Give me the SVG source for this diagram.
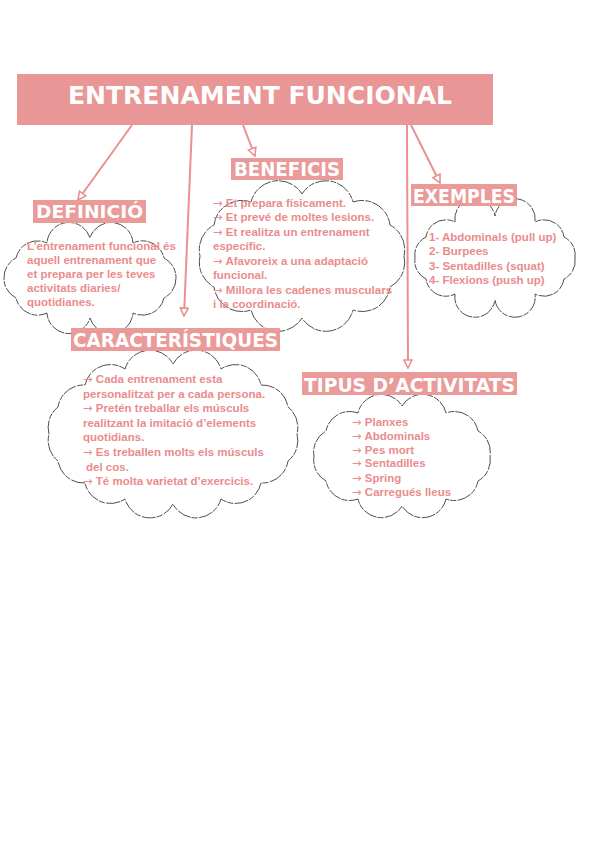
<svg xmlns="http://www.w3.org/2000/svg" width="600" height="848" viewBox="0 0 600 848">
<style>
.bg{fill:#ffffff}
.title{fill:#e89796}
.lbl{fill:#e99a99}
.ttxt{font-family:"DejaVu Sans",Verdana,sans-serif;font-weight:bold;fill:#ffffff}
.cloud{fill:#ffffff;stroke:#3a3a3a;stroke-width:0.9;stroke-dasharray:14 1.5 6 1}
.body{font-family:"Liberation Sans",Arial,sans-serif;font-weight:bold;font-size:11.5px;fill:#ea8c8c}
.ar{font-family:"DejaVu Sans",sans-serif;font-weight:normal}
.conn{stroke:#ea9090;stroke-width:2;fill:none;marker-end:url(#arr)}
</style>
<defs>
<marker id="arr" viewBox="0 0 10 10" refX="9" refY="5" markerWidth="10" markerHeight="10" markerUnits="userSpaceOnUse" orient="auto">
<path d="M1,1 L9,5 L1,9 Z" fill="#ffffff" stroke="#ea9090" stroke-width="1.6"/>
</marker>
</defs>
<rect class="bg" x="0" y="0" width="600" height="848"/>

<g id="title">
<rect class="title" x="17" y="74" width="476" height="51"/>
<text class="ttxt" x="68" y="104" font-size="25" textLength="384" lengthAdjust="spacingAndGlyphs">ENTRENAMENT FUNCIONAL</text>
</g>

<g id="connectors">
<line class="conn" x1="132" y1="125" x2="78" y2="200"/>
<line class="conn" x1="192" y1="125" x2="184" y2="316"/>
<line class="conn" x1="243" y1="125" x2="255" y2="156"/>
<line class="conn" x1="407" y1="125" x2="408" y2="368"/>
<line class="conn" x1="411" y1="125" x2="440" y2="183"/>
</g>

<g id="definicio">
<path class="cloud" d="M176,278 A22,22 0 0 1 164,298 A22,22 0 0 1 133,313 A22,22 0 0 1 90,318 A22,22 0 0 1 47,313 A22,22 0 0 1 16,298 A22,22 0 0 1 4,278 A22,22 0 0 1 16,258 A22,22 0 0 1 47,243 A22,22 0 0 1 90,238 A22,22 0 0 1 133,243 A22,22 0 0 1 164,258 A22,22 0 0 1 176,278 Z"/>
<rect class="lbl" x="33" y="200" width="113" height="23"/>
<text class="ttxt" x="36" y="218" font-size="18" textLength="107" lengthAdjust="spacingAndGlyphs">DEFINICIÓ</text>
<text class="body" x="27" y="250" font-size="10.9">L’entrenament funcional és</text>
<text class="body" x="27" y="264" font-size="10.9">aquell entrenament que</text>
<text class="body" x="27" y="278" font-size="10.9">et prepara per les teves</text>
<text class="body" x="27" y="292" font-size="10.9">activitats diaries/</text>
<text class="body" x="27" y="306" font-size="10.9">quotidianes.</text>
</g>

<g id="beneficis">
<path class="cloud" d="M404,256 A28,28 0 0 1 390,287 A28,28 0 0 1 353,310 A28,28 0 0 1 302,318 A28,28 0 0 1 251,310 A28,28 0 0 1 214,287 A28,28 0 0 1 200,256 A28,28 0 0 1 214,225 A28,28 0 0 1 251,202 A28,28 0 0 1 302,194 A28,28 0 0 1 353,202 A28,28 0 0 1 390,225 A28,28 0 0 1 404,256 Z"/>
<rect class="lbl" x="231" y="158" width="112" height="22"/>
<text class="ttxt" x="234" y="176" font-size="19" textLength="106" lengthAdjust="spacingAndGlyphs">BENEFICIS</text>
<text class="body" x="213" y="207"><tspan class="ar">→</tspan> Et prepara físicament.</text>
<text class="body" x="213" y="221"><tspan class="ar">→</tspan> Et prevé de moltes lesions.</text>
<text class="body" x="213" y="236"><tspan class="ar">→</tspan> Et realitza un entrenament</text>
<text class="body" x="213" y="250">específic.</text>
<text class="body" x="213" y="265"><tspan class="ar">→</tspan> Afavoreix a una adaptació</text>
<text class="body" x="213" y="279">funcional.</text>
<text class="body" x="213" y="294"><tspan class="ar">→</tspan> Millora les cadenes musculars</text>
<text class="body" x="213" y="308">i la coordinació.</text>
</g>

<g id="exemples">
<path class="cloud" d="M575,258 A20,20 0 0 1 564,279 A20,20 0 0 1 535,294 A20,20 0 0 1 495,300 A20,20 0 0 1 455,294 A20,20 0 0 1 426,279 A20,20 0 0 1 415,258 A20,20 0 0 1 426,237 A20,20 0 0 1 455,222 A20,20 0 0 1 495,216 A20,20 0 0 1 535,222 A20,20 0 0 1 564,237 A20,20 0 0 1 575,258 Z"/>
<rect class="lbl" x="411" y="184" width="106" height="22"/>
<text class="ttxt" x="413" y="203" font-size="20" textLength="102" lengthAdjust="spacingAndGlyphs">EXEMPLES</text>
<text class="body" x="429" y="241">1- Abdominals (pull up)</text>
<text class="body" x="429" y="255">2- Burpees</text>
<text class="body" x="429" y="270">3- Sentadilles (squat)</text>
<text class="body" x="429" y="284">4- Flexions (push up)</text>
</g>

<g id="caracteristiques">
<path class="cloud" d="M297,434 A26,26 0 0 1 288,461 A26,26 0 0 1 261,483 A26,26 0 0 1 221,499 A26,26 0 0 1 173,504 A26,26 0 0 1 125,499 A26,26 0 0 1 85,483 A26,26 0 0 1 58,461 A26,26 0 0 1 49,434 A26,26 0 0 1 58,407 A26,26 0 0 1 85,385 A26,26 0 0 1 125,369 A26,26 0 0 1 173,364 A26,26 0 0 1 221,369 A26,26 0 0 1 261,385 A26,26 0 0 1 288,407 A26,26 0 0 1 297,434 Z"/>
<rect class="lbl" x="71" y="328" width="209" height="23"/>
<text class="ttxt" x="73" y="347" font-size="19" textLength="205" lengthAdjust="spacingAndGlyphs">CARACTERÍSTIQUES</text>
<text class="body" x="83" y="383"><tspan class="ar">→</tspan> Cada entrenament esta</text>
<text class="body" x="83" y="398">personalitzat per a cada persona.</text>
<text class="body" x="83" y="412"><tspan class="ar">→</tspan> Pretén treballar els músculs</text>
<text class="body" x="83" y="427">realitzant la imitació d’elements</text>
<text class="body" x="83" y="441">quotidians.</text>
<text class="body" x="83" y="456"><tspan class="ar">→</tspan> Es treballen molts els músculs</text>
<text class="body" x="86" y="471">del cos.</text>
<text class="body" x="83" y="485"><tspan class="ar">→</tspan> Té molta varietat d’exercicis.</text>
</g>

<g id="tipus">
<path class="cloud" d="M490,456 A24,24 0 0 1 478,481 A24,24 0 0 1 446,499 A24,24 0 0 1 402,506 A24,24 0 0 1 358,499 A24,24 0 0 1 326,481 A24,24 0 0 1 314,456 A24,24 0 0 1 326,431 A24,24 0 0 1 358,413 A24,24 0 0 1 402,406 A24,24 0 0 1 446,413 A24,24 0 0 1 478,431 A24,24 0 0 1 490,456 Z"/>
<rect class="lbl" x="302" y="372" width="215" height="23"/>
<text class="ttxt" x="304" y="392" font-size="20" textLength="211" lengthAdjust="spacingAndGlyphs">TIPUS D’ACTIVITATS</text>
<text class="body" x="352" y="426" font-size="10.5"><tspan class="ar">→</tspan> Planxes</text>
<text class="body" x="352" y="440" font-size="10.5"><tspan class="ar">→</tspan> Abdominals</text>
<text class="body" x="352" y="454" font-size="10.5"><tspan class="ar">→</tspan> Pes mort</text>
<text class="body" x="352" y="467" font-size="10.5"><tspan class="ar">→</tspan> Sentadilles</text>
<text class="body" x="352" y="482" font-size="10.5"><tspan class="ar">→</tspan> Spring</text>
<text class="body" x="352" y="496" font-size="10.5"><tspan class="ar">→</tspan> Carregués lleus</text>
</g>
</svg>
